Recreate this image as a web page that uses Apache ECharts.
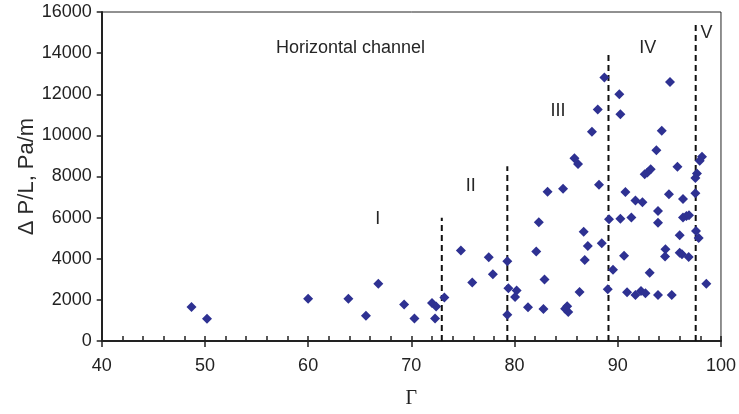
<!DOCTYPE html>
<html>
<head>
<meta charset="utf-8">
<script src="https://cdn.jsdelivr.net/npm/echarts@6/dist/echarts.min.js"></script>
<style>
  html, body { margin: 0; padding: 0; background: #fff; }
  #chart { width: 739px; height: 414px; }
</style>
</head>
<body>
<div id="chart"></div>
<script>
  // measured points: void fraction Γ vs pressure gradient ΔP/L
  const gamma = [
    48.7, 50.2, 60.0, 63.9, 65.6, 66.8, 69.3, 70.3, 72.0, 72.4,
    72.3, 73.2, 74.8, 75.9, 77.5, 77.9, 79.3, 79.4, 79.3, 80.2,
    80.05, 81.3, 82.1, 82.35, 82.9, 82.8, 83.2, 84.7, 85.1, 85.2,
    84.9, 85.8, 86.15, 86.3, 86.7, 87.1, 86.8, 87.5, 88.06, 88.18,
    88.45, 88.7, 89.15, 89.03, 89.54, 90.15, 90.25, 90.25, 95.06, 94.26,
    93.74, 93.19, 92.87, 92.61, 95.78, 98.16, 97.94, 97.67, 97.52, 97.52,
    94.96, 90.74, 91.71, 92.39, 96.32, 93.9, 93.9, 91.32, 96.32, 96.65,
    96.9, 96.0, 97.58, 97.84, 94.62, 94.58, 96.0, 96.22, 96.87, 90.61,
    93.09, 90.9, 91.71, 92.25, 92.68, 93.9, 95.23, 98.58
  ];
  const dpl = [
    1650, 1080, 2050, 2050, 1230, 2780, 1770, 1090, 1850, 1680,
    1090, 2110, 4400, 2850, 4070, 3250, 3880, 2570, 1280, 2450,
    2140, 1640, 4350, 5780, 2990, 1560, 7260, 7410, 1690, 1410,
    1570, 8890, 8610, 2380, 5310, 4620, 3940, 10180, 11260, 7600,
    4750, 12810, 5920, 2520, 3470, 12000, 11030, 5950, 12600, 10230,
    9280, 8350, 8200, 8110, 8470, 8960, 8760, 8150, 7930, 7190,
    7140, 7250, 6830, 6750, 6910, 6320, 5750, 6010, 6010, 6080,
    6110, 5140, 5350, 5010, 4460, 4110, 4290, 4220, 4080, 4140,
    3320, 2370, 2240, 2430, 2320, 2240, 2240, 2790
  ];

  // flow regime boundaries (dashed lines) and their heights
  const boundaryX = [72.95, 79.3, 89.1, 97.55];
  const boundaryTop = [6000, 8500, 14000, 15500];

  // regime labels
  const regionNames = ['I', 'II', 'III', 'IV', 'V', 'Horizontal channel'];
  const regionX = [66.75, 75.75, 84.2, 92.9, 98.6, 64.1];
  const regionY = [5950, 7540, 11170, 14260, 14990, 14260];

  const chart = echarts.init(document.getElementById('chart'));

  const boundarySeries = boundaryX.map((x, i) => ({
    type: 'line',
    data: [[x, 0], [x, boundaryTop[i]]],
    symbol: 'none',
    silent: true,
    lineStyle: { color: '#111', width: 2, type: [6, 4] },
    z: 1
  }));

  const option = {
    animation: false,
    grid: {
      left: 101.7, right: 17.7, top: 12, bottom: 71,
      show: true, borderColor: '#222', borderWidth: 1
    },
    xAxis: [
      {
        type: 'value', min: 40, max: 100, interval: 10,
        position: 'bottom',
        name: 'Γ', nameLocation: 'middle', nameGap: 48,
        nameMoveOverlap: false,
        nameTextStyle: { fontFamily: 'Liberation Serif', fontSize: 20, color: '#222' },
        axisLine: { show: true, lineStyle: { color: '#222', width: 2 } },
        axisTick: { show: true, inside: false, length: 6, lineStyle: { color: '#222', width: 1.5 } },
        axisLabel: { fontFamily: 'Liberation Sans', fontSize: 18, color: '#222', margin: 16 },
        splitLine: { show: false }
      },
      {
        type: 'value', min: 40, max: 100, interval: 2,
        position: 'bottom', offset: 0,
        axisLine: { show: false },
        axisTick: { show: true, inside: true, length: 5, lineStyle: { color: '#222', width: 1.5 } },
        axisLabel: { show: false },
        splitLine: { show: false }
      }
    ],
    yAxis: {
      type: 'value', min: 0, max: 16000, interval: 2000,
      name: 'Δ P/L, Pa/m', nameLocation: 'middle', nameGap: 64,
      nameMoveOverlap: false,
      nameTextStyle: { fontFamily: 'Liberation Sans', fontSize: 22, color: '#2a2a2a' },
      axisLine: { show: true, lineStyle: { color: '#222', width: 2 } },
      axisTick: { show: true, inside: false, length: 5, lineStyle: { color: '#222', width: 1.5 } },
      axisLabel: {
        fontFamily: 'Liberation Sans', fontSize: 18, color: '#222', margin: 10,
        formatter: v => String(v)
      },
      splitLine: { show: false }
    },
    series: [
      ...boundarySeries,
      {
        type: 'scatter',
        symbol: 'diamond',
        symbolSize: 10,
        itemStyle: { color: '#2e3192', opacity: 1 },
        data: gamma.map((g, i) => [g, dpl[i]]),
        z: 3
      },
      {
        type: 'scatter',
        symbolSize: 1,
        itemStyle: { color: 'rgba(0,0,0,0)', opacity: 1 },
        silent: true,
        label: {
          show: true, position: 'inside',
          formatter: p => p.name,
          fontFamily: 'Liberation Sans', fontSize: 18, color: '#262626',
          textBorderWidth: 0
        },
        data: regionNames.map((n, i) => ({ name: n, value: [regionX[i], regionY[i]] })),
        z: 4
      }
    ]
  };
  chart.setOption(option);
</script>
</body>
</html>
